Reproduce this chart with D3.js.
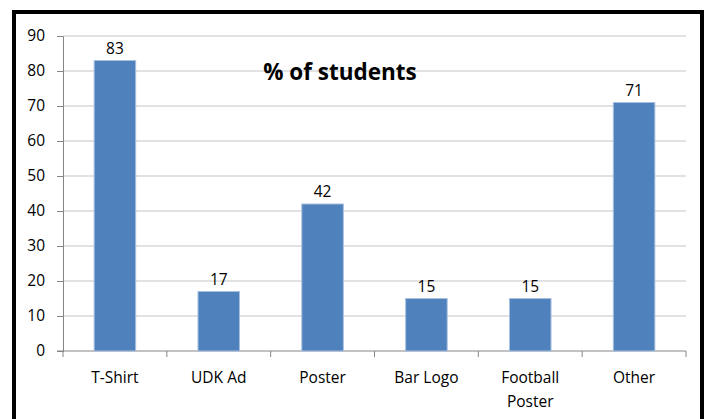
<!DOCTYPE html>
<html>
<head>
<meta charset="utf-8">
<script src="https://cdn.jsdelivr.net/npm/d3@7"></script>
<style>
  body { margin: 0; background: #fff; }
  text { font-family: "Open Sans", sans-serif; }
</style>
</head>
<body>
<div id="chart"></div>
<script>
// Data
var categories = ["T-Shirt", "UDK Ad", "Poster", "Bar Logo", "Football Poster", "Other"];
var values = [83, 17, 42, 15, 15, 71];
var yTicks = [0, 10, 20, 30, 40, 50, 60, 70, 80, 90];

var W = 707, H = 419;
// plot area edges (don't call these "top", it clashes with window.top)
var plotLeft = 63, plotRight = 686, plotTop = 36, plotBottom = 351;
var fs = 15.5;

var svg = d3.select("#chart").append("svg")
    .attr("width", W)
    .attr("height", H);

// outer black frame
svg.append("rect")
    .attr("x", 14).attr("y", 12)
    .attr("width", 688).attr("height", H + 20)
    .attr("fill", "#fff")
    .attr("stroke", "#000")
    .attr("stroke-width", 4);

var x = d3.scaleBand().domain(categories).range([plotLeft, plotRight]).paddingInner(0.6).paddingOuter(0.3);
var xb = d3.scaleBand().domain(categories).range([plotLeft, plotRight]);
var y = d3.scaleLinear().domain([0, 90]).range([plotBottom, plotTop]);

// gridlines
svg.selectAll("line.grid")
    .data(yTicks.filter(function (d) { return d > 0; }))
    .enter().append("line")
    .attr("class", "grid")
    .attr("x1", plotLeft).attr("x2", plotRight)
    .attr("y1", function (d) { return y(d); })
    .attr("y2", function (d) { return y(d); })
    .attr("stroke", "#d9d9d9")
    .attr("stroke-width", 1.3);

// y axis
var yAxis = svg.append("g")
    .attr("transform", "translate(" + plotLeft + ",0)")
    .call(d3.axisLeft(y).tickValues(yTicks).tickSize(6).tickPadding(12));
yAxis.selectAll("text").attr("font-size", fs).attr("fill", "#000").style("font-family", "Open Sans");
yAxis.selectAll("line, path").attr("stroke", "#868686");

// x axis with boundary ticks
svg.append("line")
    .attr("x1", plotLeft - 6).attr("x2", plotRight)
    .attr("y1", plotBottom).attr("y2", plotBottom)
    .attr("stroke", "#868686");
svg.selectAll("line.xt")
    .data(categories.concat(["end"]))
    .enter().append("line")
    .attr("class", "xt")
    .attr("x1", function (d, i) { return plotLeft + i * xb.bandwidth(); })
    .attr("x2", function (d, i) { return plotLeft + i * xb.bandwidth(); })
    .attr("y1", plotBottom).attr("y2", plotBottom + 6)
    .attr("stroke", "#868686");

// bars
svg.selectAll("rect.bar")
    .data(values)
    .enter().append("rect")
    .attr("class", "bar")
    .attr("x", function (d, i) { return x(categories[i]); })
    .attr("y", function (d) { return y(d); })
    .attr("width", x.bandwidth())
    .attr("height", function (d) { return plotBottom - y(d); })
    .attr("fill", "#4f81bd")
    .attr("stroke", "#a7c0de")
    .attr("stroke-width", 1);

// value labels
svg.selectAll("text.val")
    .data(values)
    .enter().append("text")
    .attr("class", "val")
    .attr("x", function (d, i) { return x(categories[i]) + x.bandwidth() / 2; })
    .attr("y", function (d) { return y(d) - 7; })
    .attr("text-anchor", "middle")
    .attr("font-size", fs)
    .text(function (d) { return d; });

// category labels, wrapped like the original
var labelLines = categories.map(function (c) { return c === "Football Poster" ? ["Football", "Poster"] : [c]; });
svg.selectAll("text.cat")
    .data(labelLines)
    .enter().append("text")
    .attr("class", "cat")
    .attr("text-anchor", "middle")
    .attr("font-size", fs)
    .attr("x", function (d, i) { return xb(categories[i]) + xb.bandwidth() / 2; })
    .attr("y", 383)
    .each(function (d, i) {
        var t = d3.select(this);
        d.forEach(function (line, j) {
            t.append("tspan")
                .attr("x", xb(categories[i]) + xb.bandwidth() / 2)
                .attr("dy", j === 0 ? 0 : 23.5)
                .text(line);
        });
    });

// title
svg.append("text")
    .attr("x", 340).attr("y", 80)
    .attr("text-anchor", "middle")
    .attr("font-size", 22.5)
    .attr("font-weight", "bold")
    .text("% of students");
</script>
</body>
</html>
